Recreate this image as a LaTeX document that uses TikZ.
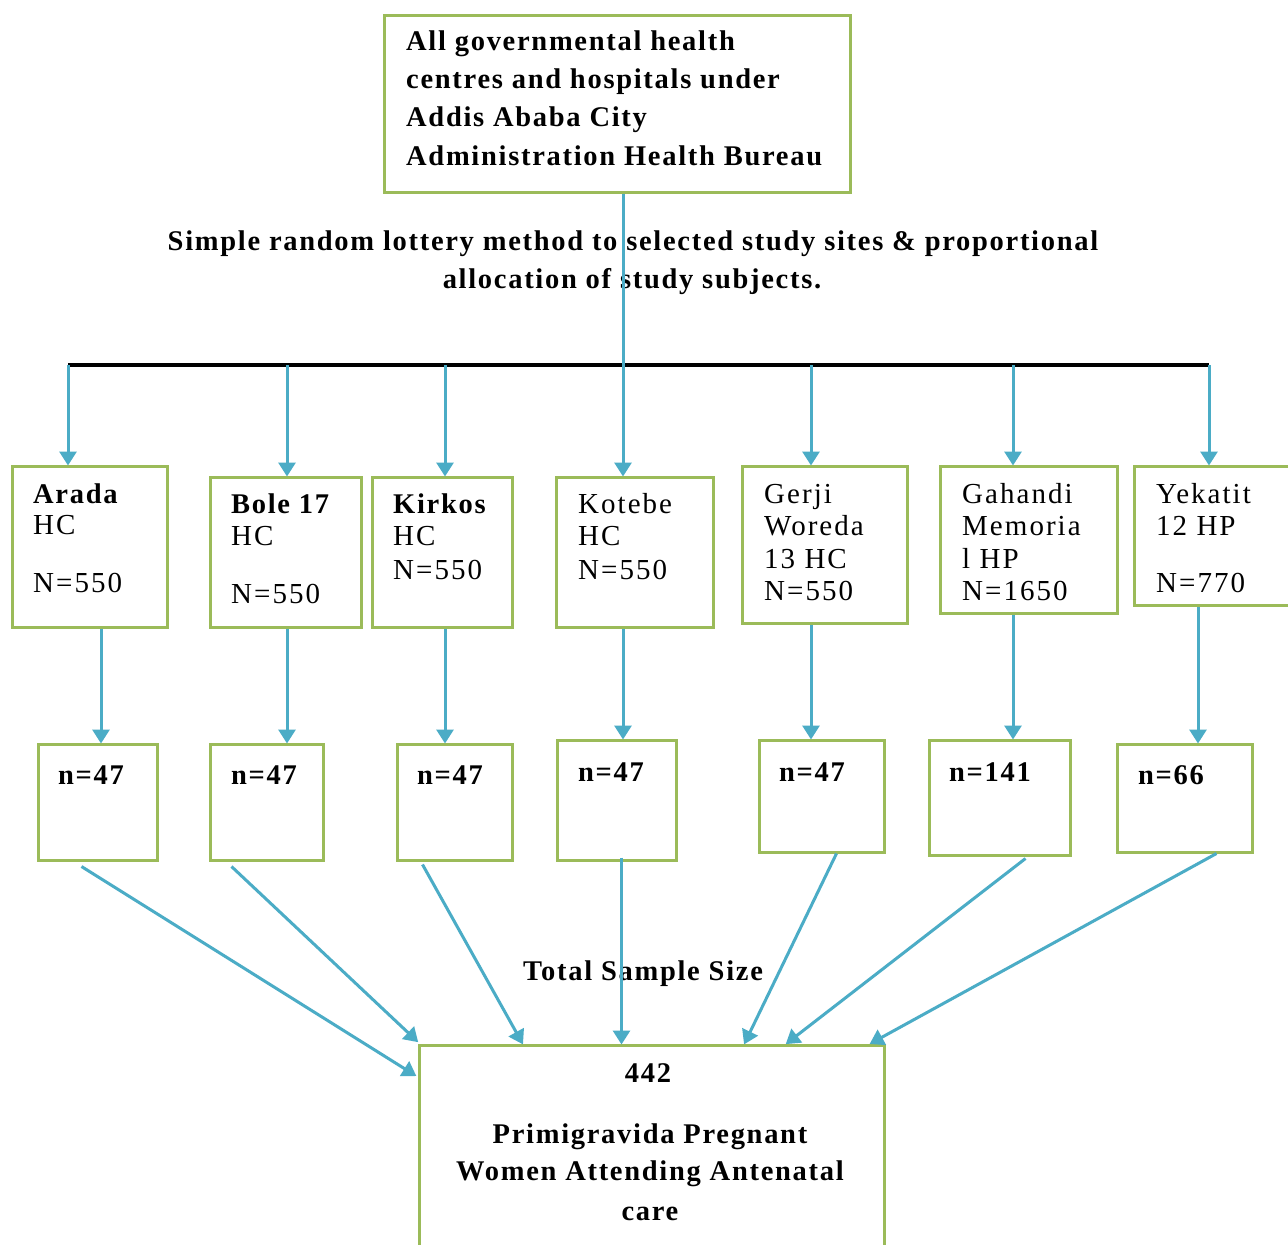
\documentclass[tikz,border=0pt]{standalone}
\usepackage{fontspec}
\setmainfont{Liberation Serif}
\usetikzlibrary{arrows.meta,calc}
\definecolor{boxgreen}{RGB}{155,187,89}
\definecolor{arrblue}{RGB}{75,172,198}
\tikzset{
  box/.style={draw=boxgreen, line width=3pt, fill=white, inner sep=0pt},
  arr/.style={draw=arrblue, line width=3pt, -{Triangle[width=17pt,length=14pt]}, shorten >=-1pt},
  bar/.style={draw=black, line width=4.5pt},
  tb/.style={anchor=base west, inner sep=0pt, font=\fontsize{28.5}{32}\selectfont\bfseries\addfontfeature{LetterSpace=6}},
  tr/.style={anchor=base west, inner sep=0pt, font=\fontsize{29}{32}\selectfont\addfontfeature{LetterSpace=7}},
  tc/.style={anchor=base, inner sep=0pt, font=\fontsize{28.5}{32}\selectfont\bfseries\addfontfeature{LetterSpace=6}},
}
\begin{document}
\begin{tikzpicture}[x=1pt,y=-1pt]
\path[use as bounding box, clip] (0,0) rectangle (1288,1245);
\fill[white] (0,0) rectangle (1288,1245);

% boxes
\node[box, minimum width=466, minimum height=177] (top) at (617,103.5) {};
\node[box, minimum width=155, minimum height=161] (arada) at (89.5,546.5) {};
\node[box, minimum width=151, minimum height=150] (bole) at (285.5,552) {};
\node[box, minimum width=140, minimum height=150] (kirkos) at (442,552) {};
\node[box, minimum width=157, minimum height=150] (kotebe) at (634.5,552) {};
\node[box, minimum width=165, minimum height=157] (gerji) at (824.5,544.5) {};
\node[box, minimum width=177, minimum height=147] (gahandi) at (1028.5,539.5) {};
\node[box, minimum width=166, minimum height=139] (yekatit) at (1217,535.5) {};

\node[box, minimum width=119, minimum height=116] (n1) at (97.5,802) {};
\node[box, minimum width=113, minimum height=116] (n2) at (266.5,802) {};
\node[box, minimum width=115, minimum height=116] (n3) at (454.5,802) {};
\node[box, minimum width=119, minimum height=120] (n4) at (616.5,800) {};
\node[box, minimum width=125, minimum height=112] (n5) at (821.5,796) {};
\node[box, minimum width=141, minimum height=115] (n6) at (999.5,797.5) {};
\node[box, minimum width=135, minimum height=108] (n7) at (1184.5,798) {};

\node[box, minimum width=465, minimum height=225] (big) at (651.5,1157.5) {};

% texts
\node[tb] (t1) at (406,50) {All governmental health};
\node[tb] (t2) at (406,88) {centres and hospitals under};
\node[tb] (t3) at (406,126) {Addis Ababa City};
\node[tb] (t4) at (406,165) {Administration Health Bureau};

\node[tc] (s1) at (633,250) {Simple random lottery method to selected study sites \& proportional};
\node[tc] (s2) at (632,288) {allocation of study subjects.};

\node[tb] (a1) at (33,503) {Arada};
\node[tr] (a2) at (33,534) {HC};
\node[tr] (a3) at (33,592) {N=550};
\node[tb] (b1t) at (231,513) {Bole 17};
\node[tr] (b2t) at (231,545) {HC};
\node[tr] (b3t) at (231,603) {N=550};
\node[tb] (k1) at (393,513) {Kirkos};
\node[tr] (k2) at (393,545) {HC};
\node[tr] (k3) at (393,579) {N=550};
\node[tr] (ko1) at (578,513) {Kotebe};
\node[tr] (ko2) at (578,545) {HC};
\node[tr] (ko3) at (578,579) {N=550};
\node[tr] (g1) at (764,503) {Gerji};
\node[tr] (g2) at (764,535) {Woreda};
\node[tr] (g3) at (764,568) {13 HC};
\node[tr] (g4) at (764,600) {N=550};
\node[tr] (ga1) at (962,503) {Gahandi};
\node[tr] (ga2) at (962,535) {Memoria};
\node[tr] (ga3) at (962,568) {l HP};
\node[tr] (ga4) at (962,600) {N=1650};
\node[tr] (y1) at (1156,503) {Yekatit};
\node[tr] (y2) at (1156,535) {12 HP};
\node[tr] (y3) at (1156,592) {N=770};

\node[tb] (nt1) at (58,784) {n=47};
\node[tb] (nt2) at (231,784) {n=47};
\node[tb] (nt3) at (417,784) {n=47};
\node[tb] (nt4) at (578,781) {n=47};
\node[tb] (nt5) at (779,781) {n=47};
\node[tb] (nt6) at (949,781) {n=141};
\node[tb] (nt7) at (1138,784) {n=66};

\node[tc] (tot) at (643,980) {Total Sample Size};
\node[tc] (c1) at (648,1082) {442};
\node[tc] (c2) at (650,1143) {Primigravida Pregnant};
\node[tc] (c3) at (650,1180) {Women Attending Antenatal};
\node[tc] (c4) at (650,1220) {care};

% branch coordinates
\coordinate (p1) at (68,365);
\coordinate (p2) at (287,365);
\coordinate (p3) at (445,365);
\coordinate (p4) at (623,365);
\coordinate (p5) at (811,365);
\coordinate (p6) at (1013,365);
\coordinate (p7) at (1209,365);
\coordinate (m1) at (101,0);
\coordinate (m7) at (1198,0);

\draw[bar] (p1) -- (p7);
\draw[arr] (p4 |- top.south) -- (p4 |- kotebe.north);
\draw[arr] (p1) -- (p1 |- arada.north);
\draw[arr] (p2) -- (p2 |- bole.north);
\draw[arr] (p3) -- (p3 |- kirkos.north);
\draw[arr] (p5) -- (p5 |- gerji.north);
\draw[arr] (p6) -- (p6 |- gahandi.north);
\draw[arr] (p7) -- (p7 |- yekatit.north);

\draw[arr] (m1 |- arada.south) -- (m1 |- n1.north);
\draw[arr] (p2 |- bole.south) -- (p2 |- n2.north);
\draw[arr] (p3 |- kirkos.south) -- (p3 |- n3.north);
\draw[arr] (p4 |- kotebe.south) -- (p4 |- n4.north);
\draw[arr] (p5 |- gerji.south) -- (p5 |- n5.north);
\draw[arr] (p6 |- gahandi.south) -- (p6 |- n6.north);
\draw[arr] (m7 |- yekatit.south) -- (m7 |- n7.north);

% converging arrows
\coordinate (e1) at ($(big.north west)+(-2,32)$);
\coordinate (e2) at ($(big.north west)+(0,-2)$);
\draw[arr] ($(n1.south west)+(45,5)$) -- (e1);
\draw[arr] ($(n2.south west)+(23,5)$) -- (e2);
\draw[arr] ($(n3.south west)+(27,3)$) -- ($(big.north west)+(105,0)$);
\draw[arr] ($(n4.south west)+(66,-4)$) -- ($(big.north west)+(204,0)$);
\draw[arr] ($(n5.south west)+(79,0)$) -- ($(big.north west)+(327,0)$);
\draw[arr] ($(n6.south west)+(98,2)$) -- ($(big.north west)+(369,0)$);
\draw[arr] ($(n7.south west)+(101,0)$) -- ($(big.north west)+(453,0)$);
\end{tikzpicture}
\end{document}
